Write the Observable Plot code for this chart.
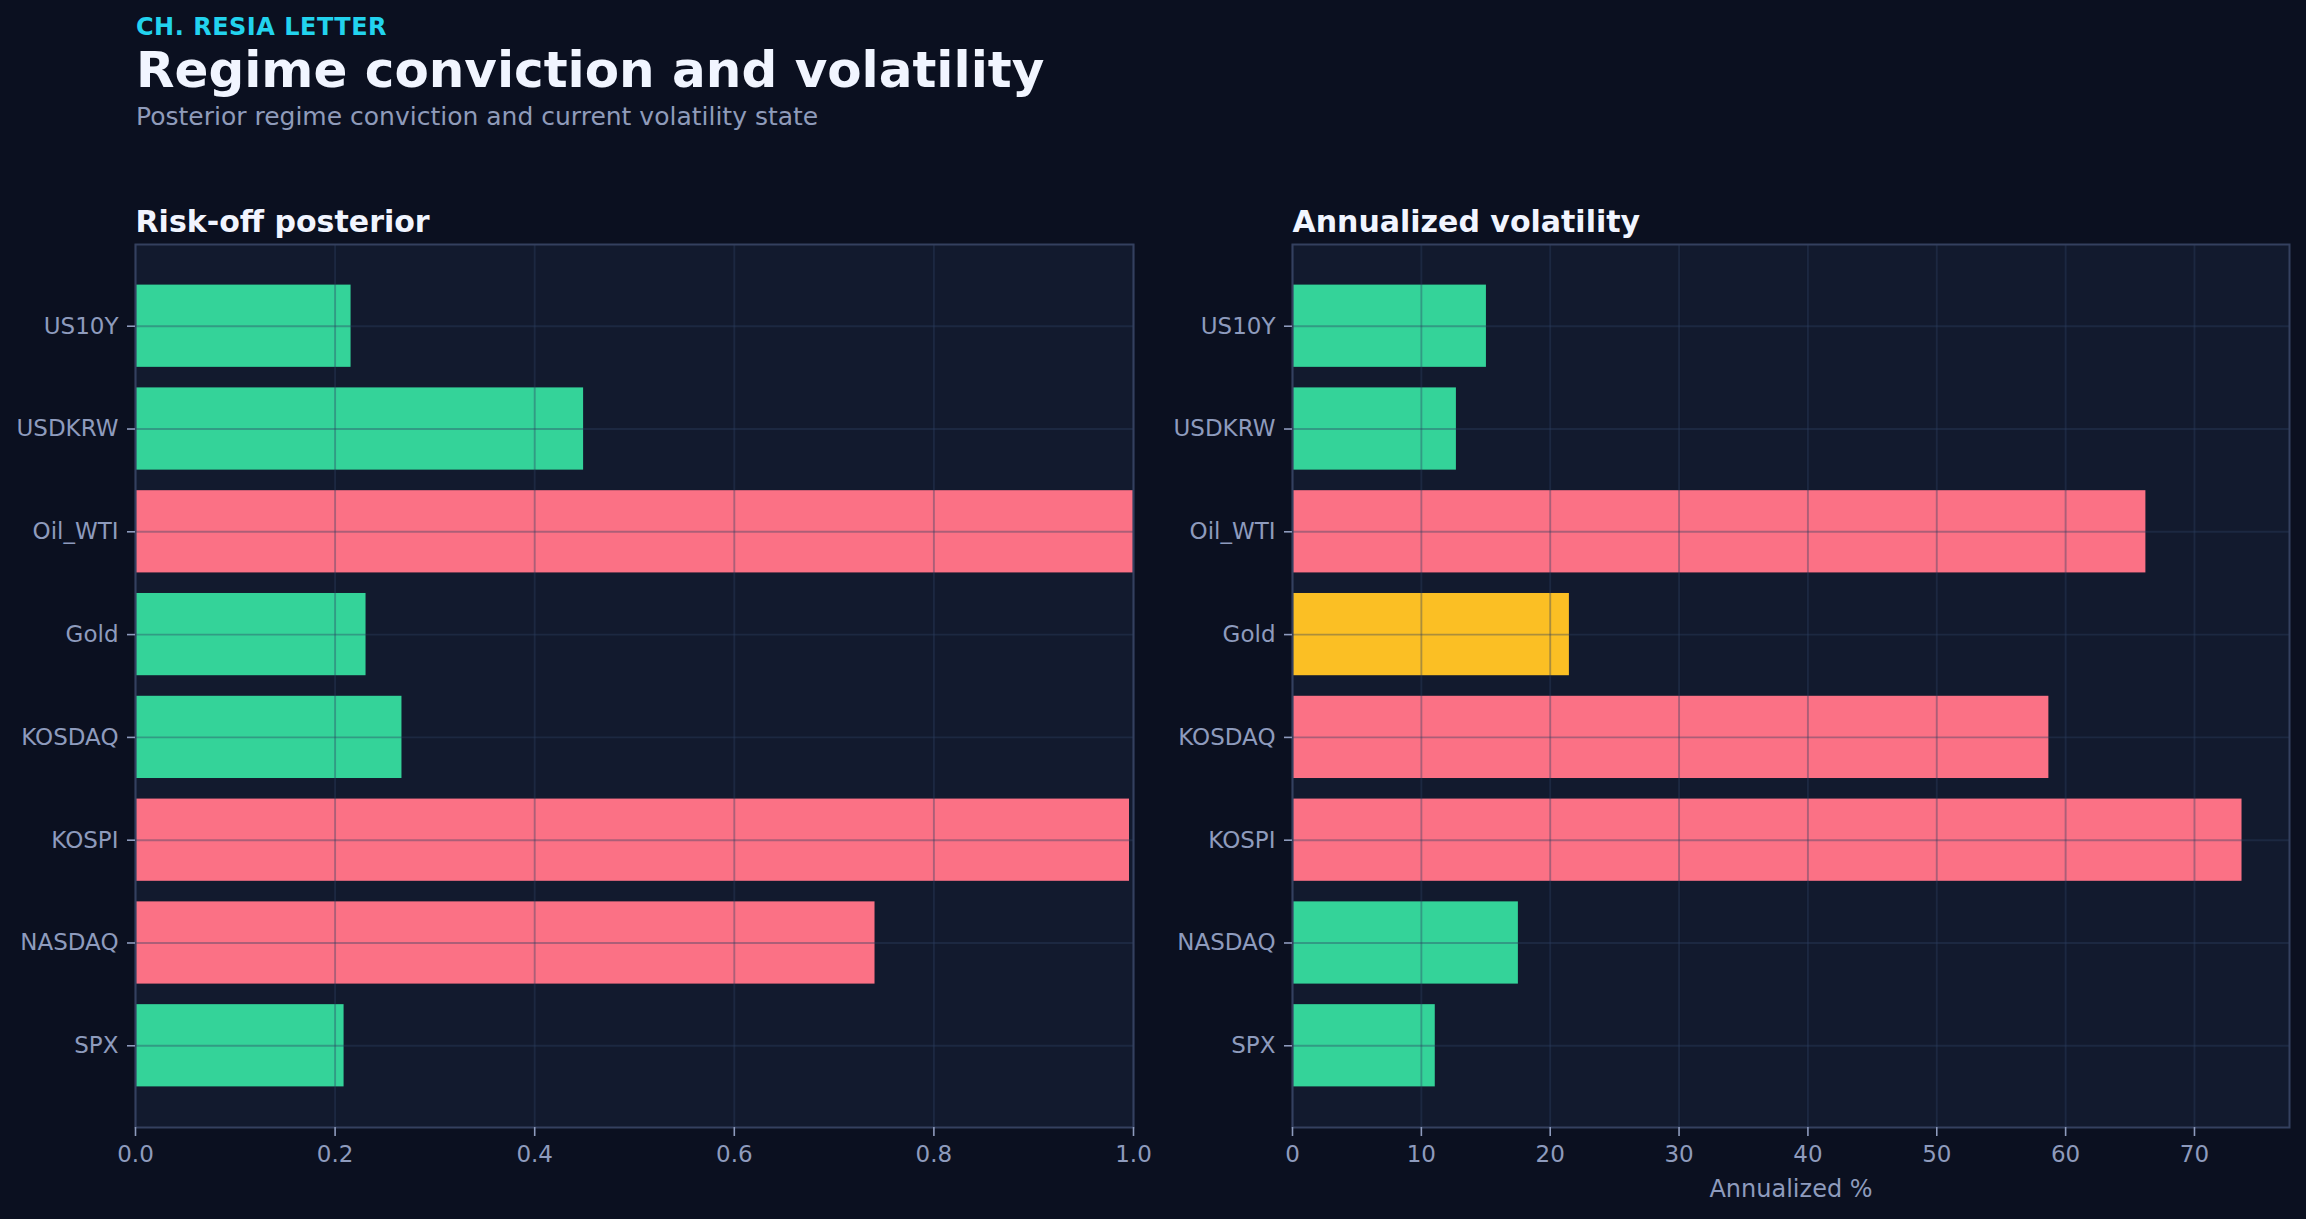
<!DOCTYPE html>
<html>
<head>
<meta charset="utf-8">
<script src="https://cdn.jsdelivr.net/npm/d3@7"></script>
<script src="https://cdn.jsdelivr.net/npm/@observablehq/plot@0.6"></script>
<style>
  html, body { margin: 0; padding: 0; background: #0b1020; }
  body { width: 2306px; height: 1219px; position: relative; overflow: hidden; font-family: "DejaVu Sans", sans-serif; }
  .hdr { position: absolute; left: 136px; white-space: nowrap; }
  #eyebrow { top: 14.4px; font-size: 24px; line-height: 27.9px; font-weight: bold; color: #22d3ee; letter-spacing: 0.5px; }
  #title { top: 41px; font-size: 50px; line-height: 58.2px; font-weight: bold; color: #f1f5ff; }
  #subtitle { top: 101.5px; font-size: 25px; line-height: 29.1px; color: #8f9bba; }
  #left { position: absolute; left: 0; top: 180px; }
  #right { position: absolute; left: 1150px; top: 180px; }
</style>
</head>
<body>
<div class="hdr" id="eyebrow">CH. RESIA LETTER</div>
<div class="hdr" id="title">Regime conviction and volatility</div>
<div class="hdr" id="subtitle">Posterior regime conviction and current volatility state</div>
<div id="left"></div>
<div id="right"></div>
<script>
// ---- data ----
const assets = ["US10Y", "USDKRW", "Oil_WTI", "Gold", "KOSDAQ", "KOSPI", "NASDAQ", "SPX"];
const posterior = [0.216, 0.449, 1.0, 0.231, 0.267, 0.996, 0.741, 0.209];
const posteriorState = ["risk-on", "risk-on", "risk-off", "risk-on", "risk-on", "risk-off", "risk-off", "risk-on"];
const volatility = [15.05, 12.72, 66.23, 21.49, 58.70, 73.69, 17.53, 11.08];
const volState = ["low", "low", "high", "medium", "high", "high", "low", "low"];
const posteriorTicks = [0, 0.2, 0.4, 0.6, 0.8, 1.0];
const volTicks = [0, 10, 20, 30, 40, 50, 60, 70];
const panelTitles = ["Risk-off posterior", "Annualized volatility"];
const volAxisLabel = "Annualized %";

const stateDomain = ["risk-on", "risk-off", "low", "medium", "high"];
const stateRange = ["#34d399", "#fb7185", "#34d399", "#fbbf24", "#fb7185"];

const postRows = assets.map((a, i) => ({asset: a, value: posterior[i], state: posteriorState[i]}));
const volRows = assets.map((a, i) => ({asset: a, value: volatility[i], state: volState[i]}));

const common = {
  height: 1039,
  marginTop: 64,
  marginBottom: 92,
  style: {fontFamily: "DejaVu Sans", background: "transparent", color: "#8e9bbd", fontSize: "23px", overflow: "visible"},
  color: {domain: stateDomain, range: stateRange},
  y: {domain: assets, paddingInner: 0.2, paddingOuter: 0.395, round: false, label: null}
};

const gridStyle = {stroke: "#2c3f62", strokeOpacity: 0.38, strokeWidth: 1.9};

function panel(rows, xDomain, ticks, fmt, title, xLabel, width, marginLeft, marginRight) {
  return Plot.plot({
    ...common,
    width, marginLeft, marginRight,
    x: {domain: xDomain, label: null},
    marks: [
      Plot.frame({fill: "#121a2e", stroke: null}),
      Plot.barX(rows, {y: "asset", x: "value", fill: "state"}),
      Plot.gridX(ticks, gridStyle),
      Plot.gridY(assets, gridStyle),
      Plot.frame({stroke: "#34405f", strokeWidth: 2}),
      Plot.axisY({tickSize: 8, tickPadding: 9, fontSize: 23, stroke: "#8e9bbd", strokeWidth: 1.6, fill: "#8e9bbd", label: null}),
      Plot.axisX(ticks, {tickSize: 9, tickPadding: 9, fontSize: 23, stroke: "#8e9bbd", strokeWidth: 1.6, fill: "#8e9bbd", tickFormat: fmt, label: null}),
      xLabel ? Plot.text([xLabel], {frameAnchor: "bottom", dy: 69, fontSize: 24, fill: "#8e9bbd", lineAnchor: "bottom"}) : null,
      Plot.text([title], {frameAnchor: "top-left", dy: -13, textAnchor: "start", lineAnchor: "bottom", fontSize: 30, fontWeight: "bold", fill: "#f1f5ff"})
    ]
  });
}

document.getElementById("left").append(
  panel(postRows, [0, 1], posteriorTicks, d3.format(".1f"), panelTitles[0], null, 1150, 135, 17)
);
document.getElementById("right").append(
  panel(volRows, [0, d3.max(volatility) * 1.05], volTicks, d3.format("d"), panelTitles[1], volAxisLabel, 1156, 142, 17)
);
</script>
</body>
</html>
